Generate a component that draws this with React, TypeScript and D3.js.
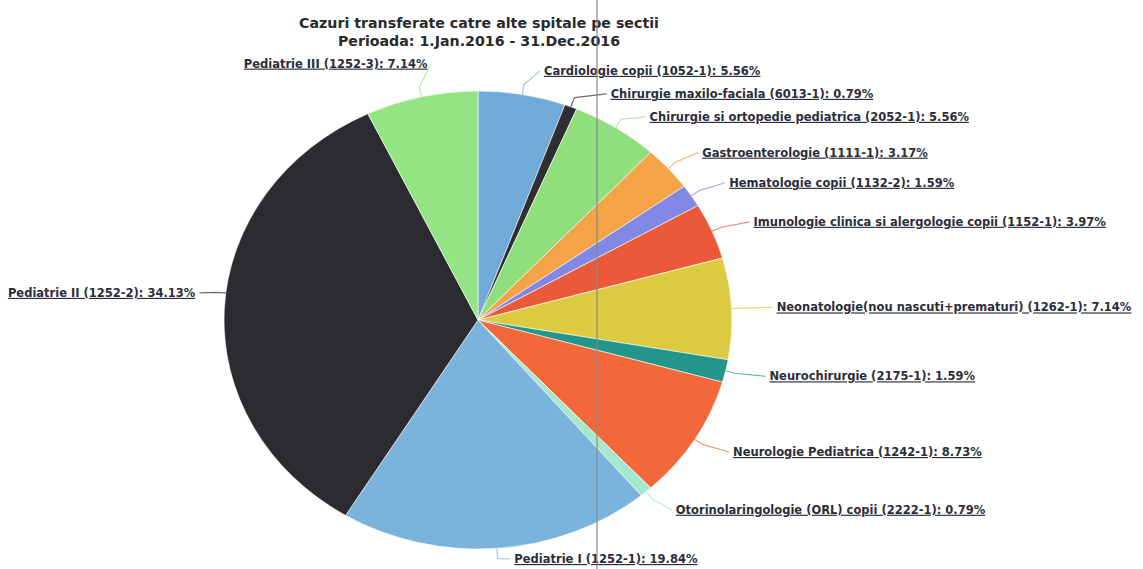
import React from "react";
import * as d3 from "d3";

const titleLines = [
  "Cazuri transferate catre alte spitale pe sectii",
  "Perioada: 1.Jan.2016 - 31.Dec.2016",
];

const categories = [
  "Cardiologie copii (1052-1)",
  "Chirurgie maxilo-faciala (6013-1)",
  "Chirurgie si ortopedie pediatrica (2052-1)",
  "Gastroenterologie (1111-1)",
  "Hematologie copii (1132-2)",
  "Imunologie clinica si alergologie copii (1152-1)",
  "Neonatologie(nou nascuti+prematuri) (1262-1)",
  "Neurochirurgie (2175-1)",
  "Neurologie Pediatrica (1242-1)",
  "Otorinolaringologie (ORL) copii (2222-1)",
  "Pediatrie I (1252-1)",
  "Pediatrie II (1252-2)",
  "Pediatrie III (1252-3)",
];

const percents = [5.56, 0.79, 5.56, 3.17, 1.59, 3.97, 7.14, 1.59, 8.73, 0.79, 19.84, 34.13, 7.14];

const colors = [
  "#6faad8", "#2e2e33", "#8fe07c", "#f5a347", "#8088e4", "#ea5a3a", "#dccb40",
  "#24958a", "#f2683a", "#a4e8cf", "#7ab3dc", "#2c2c30", "#92e582",
];

export default function App() {
  const W = 1143, H = 569;
  const cx = 478, cy = 320, rx = 254, ry = 229;
  const font = "'DejaVu Sans', Verdana, sans-serif";

  const pie = d3.pie<number>().sort(null).value((d) => d);
  const arcs = pie(percents);
  const arcGen = d3.arc<d3.PieArcDatum<number>>().innerRadius(0).outerRadius(rx);

  type L = { i: number; a: number; side: number; y: number; ny: number; ex: number; ey: number };
  const labels: L[] = arcs.map((d, i) => {
    const a = (d.startAngle + d.endAngle) / 2;
    const side = Math.sin(a) >= 0 ? 1 : -1;
    const ny = cy - (ry + (side > 0 ? 24 : 34)) * Math.cos(a);
    return { i, a, side, y: ny, ny, ex: cx + rx * Math.sin(a), ey: cy - ry * Math.cos(a) };
  });
  const right = labels.filter((l) => l.side > 0).sort((p, q) => p.ny - q.ny);
  for (let k = 1; k < right.length; k++) {
    if (right[k].y < right[k - 1].y + 23) right[k].y = right[k - 1].y + 23;
  }
  labels.forEach((l) => {
    if (l.y > H - 10) l.y = H - 10;
    if (l.y < 62) l.y = 62;
    if (l.side < 0 && Math.abs(Math.cos(l.a)) < 0.2) {
      l.y -= 14;
      l.ey = l.y;
    }
  });

  return (
    <svg width={W} height={H} style={{ display: "block", position: "absolute", left: 0, top: 0, background: "#fff" }}>
      <rect width={W} height={H} fill="#fff" />
      {titleLines.map((t, k) => (
        <text key={k} x={479} y={28 + k * 18} textAnchor="middle" fontFamily={font} fontWeight="bold" fontSize={14.2} fill="#2a2a2a">
          {t}
        </text>
      ))}
      <g transform={`translate(${cx},${cy}) scale(1,${ry / rx})`}>
        {arcs.map((d, i) => (
          <path key={i} d={arcGen(d) || ""} fill={colors[i]} stroke="#fff" strokeWidth={0.6} vectorEffect="non-scaling-stroke" />
        ))}
      </g>
      {labels.map((l) => {
        const push = Math.max(0, l.y - l.ny);
        const lx = l.side > 0
          ? cx + (rx + 45) * Math.sin(l.a) + push + (Math.abs(Math.sin(l.a)) < 0.4 ? 14 : 0)
          : cx + (rx + 45) * Math.sin(l.a) + 16;
        const ex = l.side < 0 && Math.abs(Math.cos(l.a)) < 0.2 ? cx - rx * Math.sqrt(1 - ((l.ey - cy) / ry) ** 2) : l.ex;
        const mx = ex + 10 * Math.sin(l.a);
        const my = l.ey - 10 * Math.cos(l.a);
        const endX = lx - 4 * l.side;
        const txt = `${categories[l.i]}: ${percents[l.i].toFixed(2)}%`;
        return (
          <g key={l.i}>
            <polyline
              points={`${ex},${l.ey} ${mx},${my} ${endX},${l.y}`}
              fill="none"
              stroke={colors[l.i]}
              strokeOpacity={0.7}
              strokeWidth={1.2}
            />
            <text
              x={lx}
              y={l.y + 4}
              textAnchor={l.side > 0 ? "start" : "end"}
              fontFamily={font}
              fontWeight="bold"
              fontSize={11.5}
              fill="#2b2d3a"
              textDecoration="underline"
            >
              {txt}
            </text>
          </g>
        );
      })}
      <line x1={597} y1={0} x2={597} y2={H} stroke="#8a8a8a" strokeWidth={1.5} strokeOpacity={0.8} />
    </svg>
  );
}
